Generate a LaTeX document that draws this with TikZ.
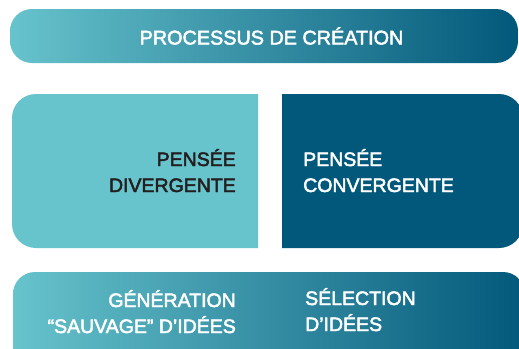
\documentclass[tikz,border=0pt]{standalone}
\usepackage{fontspec}
\setmainfont{Liberation Sans}[FakeBold=2.5]
\usetikzlibrary{positioning}

\definecolor{tealclair}{HTML}{67C3CC}
\definecolor{bleufonce}{HTML}{02587A}
\definecolor{textefonce}{HTML}{231F20}

\begin{document}
\begin{tikzpicture}[
    x=1pt, y=-1pt,
    barre/.style={left color=tealclair, right color=bleufonce, rounded corners=22pt},
    etiquette/.style={inner sep=0pt, text=white, font=\fontsize{19.5}{26}\selectfont}
]
\useasboundingbox (0,0) rectangle (519,348);
\clip (0,0) rectangle (519,348);

% Processus
\path[barre] (10,9) rectangle (518,63);
\node[etiquette, font=\fontsize{19.8}{24}\selectfont] (titre) at (271.5,36) {PROCESSUS DE CRÉATION};

% Pensee divergente
\begin{scope}
  \clip (0,0) rectangle (258,348);
  \fill[tealclair, rounded corners=24pt] (12,94) rectangle (300,248);
\end{scope}
\node[etiquette, text=textefonce, align=right, anchor=base east] (divergente) at (236,192) {PENSÉE\\DIVERGENTE};

% Pensee convergente
\begin{scope}
  \clip (282,0) rectangle (519,348);
  \fill[bleufonce, rounded corners=24pt] (240,94) rectangle (523,248);
\end{scope}
\node[etiquette, align=left, anchor=base west] (convergente) at (303,192) {PENSÉE\\CONVERGENTE};

% Generation / selection
\path[barre] (13,272) rectangle (525,372);
\node[etiquette, align=right, anchor=base east] (generation) at (236,333) {GÉNÉRATION\\“SAUVAGE” D’IDÉES};
\node[etiquette, align=left, anchor=base west] (selection) at (305,331) {SÉLECTION\\D’IDÉES};

\end{tikzpicture}
\end{document}
